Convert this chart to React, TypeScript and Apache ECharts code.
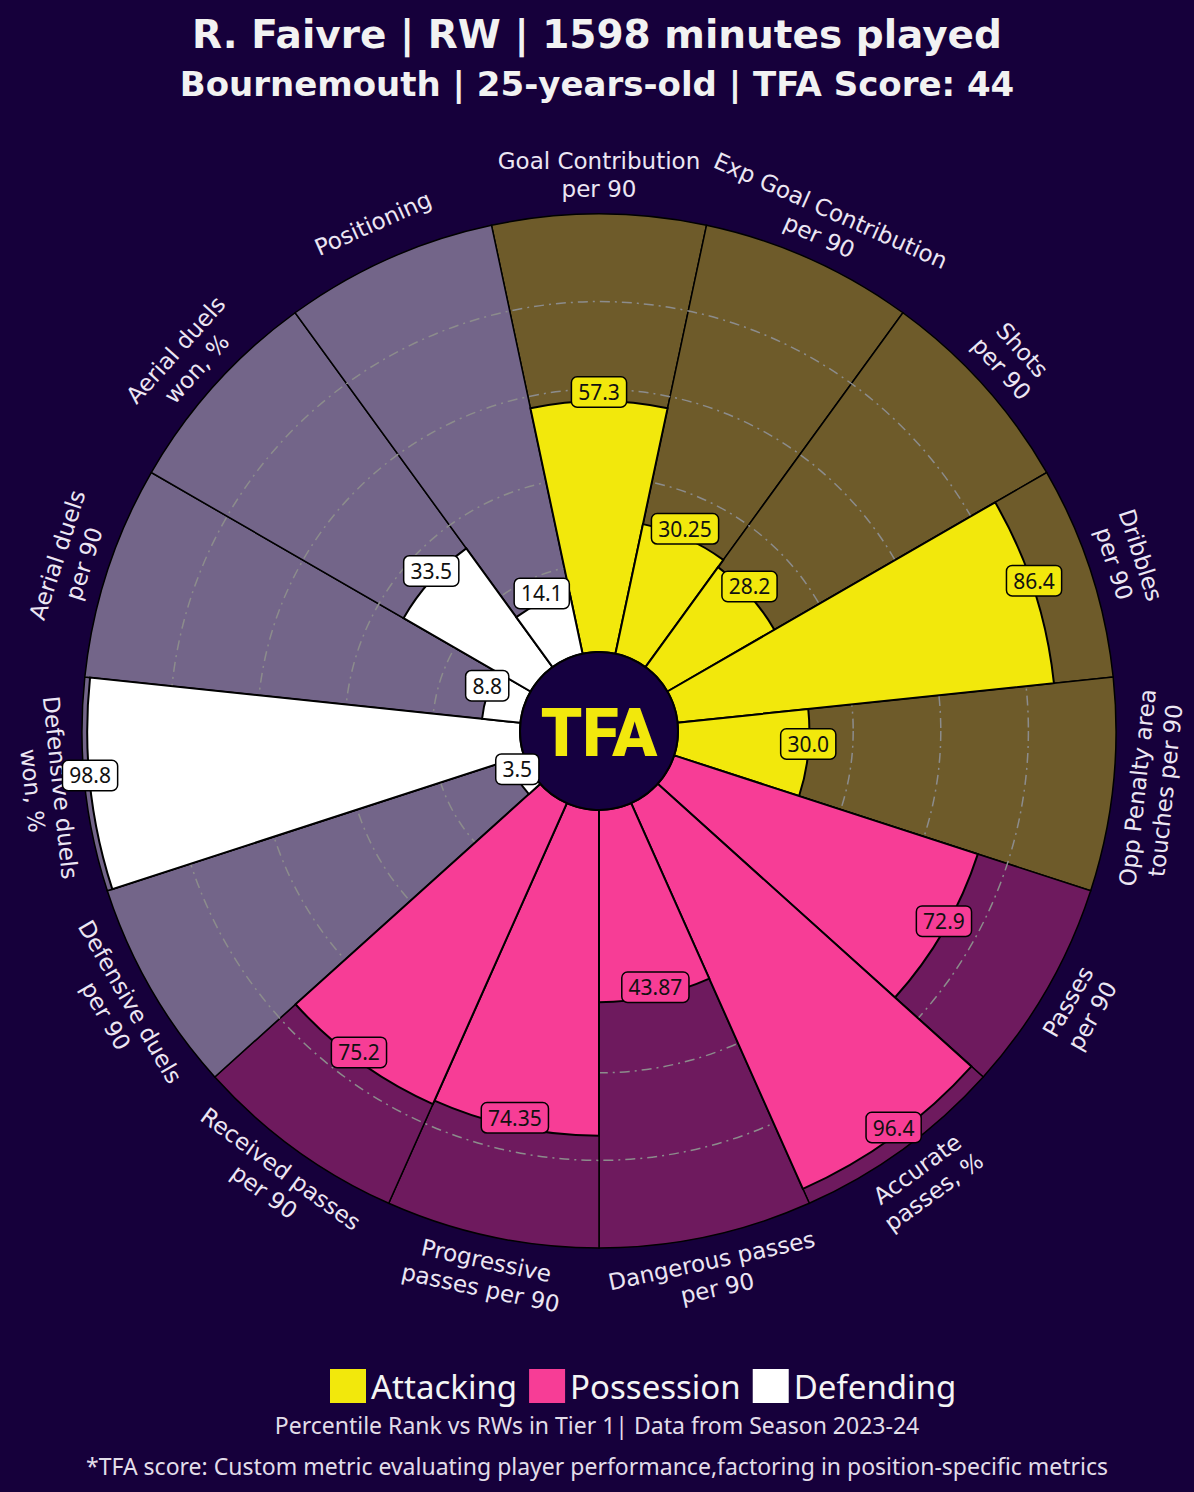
import React, { useEffect, useRef } from "react";
import * as echarts from "echarts";

const BG = "#16003b";

const params = [
  "Goal Contribution\nper 90",
  "Exp Goal Contribution\nper 90",
  "Shots\nper 90",
  "Dribbles\nper 90",
  "Opp Penalty area\ntouches per 90",
  "Passes\nper 90",
  "Accurate\npasses, %",
  "Dangerous passes\nper 90",
  "Progressive\npasses per 90",
  "Received passes\nper 90",
  "Defensive duels\nper 90",
  "Defensive duels\nwon, %",
  "Aerial duels\nper 90",
  "Aerial duels\nwon, %",
  "Positioning",
];

const values = [57.3, 30.25, 28.2, 86.4, 30.0, 72.9, 96.4, 43.87, 74.35, 75.2, 3.5, 98.8, 8.8, 33.5, 14.1];

const groups = [
  "Attacking", "Attacking", "Attacking", "Attacking", "Attacking",
  "Possession", "Possession", "Possession", "Possession", "Possession",
  "Defending", "Defending", "Defending", "Defending", "Defending",
];

const groupNames = ["Attacking", "Possession", "Defending"];

const barColors: Record<string, string> = {
  Attacking: "#f2e80c",
  Possession: "#f73d96",
  Defending: "#ffffff",
};

const bgColors: Record<string, string> = {
  Attacking: "#6e5b2a",
  Possession: "#6e1a5e",
  Defending: "#736589",
};

const TITLE = "R. Faivre | RW | 1598 minutes played";
const SUBTITLE = "Bournemouth | 25-years-old | TFA Score: 44";
const FOOT1 = "Percentile Rank vs RWs in Tier 1| Data from Season 2023-24";
const FOOT2 = "*TFA score: Custom metric evaluating player performance,factoring in position-specific metrics";

const MAX = 100;
const LABEL_R = 108.8;
const LINE_H = 28;
const FONT = "'Noto Sans', 'DejaVu Sans', sans-serif";
const PFONT = "'DejaVu Sans', 'Noto Sans', sans-serif";
const TFONT = "'DejaVu Sans', 'Noto Sans', sans-serif";

export default function App() {
  const ref = useRef<HTMLDivElement>(null);

  useEffect(() => {
    document.body.style.margin = "0";
    const chart = echarts.init(ref.current!, null, { renderer: "svg" });
    const n = params.length;
    const step = 360 / n;
    const fmt = (v: number) =>
      Math.abs(v * 10 - Math.round(v * 10)) < 1e-6 ? v.toFixed(1) : v.toFixed(2);
    const rot = (i: number) => {
      const t = i * step;
      const cw = t <= 90 ? t : t < 270 ? t - 180 : t - 360;
      return -cw;
    };

    const bgSeries = {
      type: "bar",
      name: "bg",
      coordinateSystem: "polar",
      z: 1,
      silent: true,
      barGap: "-100%",
      barCategoryGap: "0%",
      data: values.map((_, i) => ({
        value: MAX,
        itemStyle: { color: bgColors[groups[i]], borderColor: "#000", borderWidth: 1.5 },
      })),
    };

    const fgSeries = groupNames.map((g) => ({
      type: "bar",
      name: g,
      coordinateSystem: "polar",
      z: 3,
      silent: true,
      barGap: "-100%",
      barCategoryGap: "0%",
      itemStyle: { color: barColors[g], borderColor: "#000", borderWidth: 2 },
      data: values.map((v, i) => (groups[i] === g ? v : "-")),
    }));

    const valueLabels = {
      type: "scatter",
      name: "values",
      coordinateSystem: "polar",
      z: 8,
      clip: false,
      silent: true,
      symbolSize: 1,
      itemStyle: { color: "rgba(0,0,0,0)", opacity: 1 },
      data: values.map((v, i) => ({
        value: [v, i],
        label: { backgroundColor: barColors[groups[i]] },
      })),
      label: {
        show: true,
        position: "inside",
        offset: [0, -9],
        formatter: (p: any) => fmt(values[p.dataIndex]),
        color: "#111",
        fontSize: 21,
        lineHeight: 22,
        fontFamily: FONT,
        borderColor: "#000",
        borderWidth: 1.5,
        borderRadius: 5,
        padding: [4, 6, 3, 6],
      },
    };

    const paramLineData: any[] = [];
    params.forEach((p, i) => {
      const lines = p.split("\n");
      const m = lines.length;
      lines.forEach((line, k) => {
        paramLineData.push({
          name: line,
          value: [LABEL_R, i],
          label: { rotate: rot(i), offset: [0, (k - (m - 1) / 2) * LINE_H] },
        });
      });
    });

    const paramLabels = {
      type: "scatter",
      name: "params",
      coordinateSystem: "polar",
      z: 5,
      clip: false,
      silent: true,
      symbolSize: 1,
      itemStyle: { color: "rgba(0,0,0,0)", opacity: 1 },
      data: paramLineData,
      label: {
        show: true,
        position: "inside",
        formatter: "{b}",
        color: "#ece6f3",
        fontSize: 23,
        lineHeight: LINE_H,
        fontFamily: PFONT,
        align: "center",
        verticalAlign: "middle",
      },
    };

    const option: any = {
      backgroundColor: BG,
      animation: false,
      title: [
        {
          text: TITLE,
          left: "center",
          top: 15,
          padding: 0,
          textStyle: { color: "#f2f2f2", fontSize: 39, fontWeight: "bold", fontFamily: TFONT },
        },
        {
          text: SUBTITLE,
          left: "center",
          top: 67,
          padding: 0,
          textStyle: { color: "#f2f2f2", fontSize: 34, fontWeight: "bold", fontFamily: TFONT },
        },
        {
          text: FOOT1,
          left: "center",
          top: 1413,
          padding: 0,
          textStyle: { color: "#e2dde9", fontSize: 23, fontWeight: "normal", fontFamily: FONT },
        },
        {
          text: FOOT2,
          left: "center",
          top: 1454,
          padding: 0,
          textStyle: { color: "#e2dde9", fontSize: 23, fontWeight: "normal", fontFamily: FONT },
        },
      ],
      legend: {
        data: groupNames,
        left: 325,
        top: 1364,
        itemWidth: 36,
        itemHeight: 34,
        itemGap: 12,
        icon: "rect",
        selectedMode: false,
        itemStyle: { borderWidth: 0 },
        textStyle: { color: "#f4f4f4", fontSize: 33, fontFamily: FONT },
      },
      polar: { center: [599, 731], radius: [79, 517] },
      angleAxis: {
        type: "category",
        data: params,
        startAngle: 90 + step / 2,
        clockwise: true,
        axisLine: { show: false },
        axisTick: { show: false },
        axisLabel: { show: false },
        splitLine: { show: false },
      },
      radiusAxis: {
        type: "value",
        min: 0,
        max: MAX,
        interval: 20,
        z: 2,
        axisLine: { show: false },
        axisTick: { show: false },
        axisLabel: { show: false },
        splitLine: {
          show: true,
          lineStyle: {
            color: ["rgba(0,0,0,0)", "#8c8c8c", "#8c8c8c", "#8c8c8c", "#8c8c8c", "rgba(0,0,0,0)"],
            type: [10, 5, 2, 5],
            width: 1.5,
          },
        },
      },
      series: [bgSeries, ...fgSeries, valueLabels, paramLabels],
      graphic: [
        {
          type: "circle",
          z: 4,
          shape: { cx: 599, cy: 731, r: 79 },
          style: { fill: "#150040", stroke: "#000", lineWidth: 2 },
        },
        {
          type: "text",
          z: 4,
          x: 599,
          y: 733,
          style: {
            text: "TFA",
            fill: "#f2e80c",
            font: "900 66px Roboto, 'DejaVu Sans', sans-serif",
            align: "center",
            verticalAlign: "middle",
          },
        },
      ],
    };

    chart.setOption(option);
    return () => chart.dispose();
  }, []);

  return <div ref={ref} style={{ width: 1194, height: 1492 }} />;
}
